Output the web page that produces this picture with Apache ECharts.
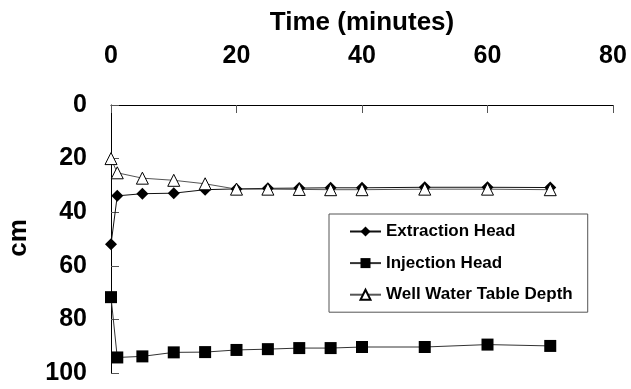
<!DOCTYPE html>
<html>
<head>
<meta charset="utf-8">
<title>Head and water table depth over time</title>
<script src="https://cdn.jsdelivr.net/npm/echarts@6/dist/echarts.min.js"></script>
<style>
  html, body { margin: 0; padding: 0; background: #fff; }
  #chart { width: 631px; height: 389px; }
</style>
</head>
<body>
<div id="chart"></div>
<script>
// Sampling times (minutes)
const timeMinutes = [0, 1, 5, 10, 15, 20, 25, 30, 35, 40, 50, 60, 70];

// Depths in cm at each sampling time
const extractionHead = [52, 33.9, 33.1, 32.9, 31.6, 31.3, 31.1, 31.0, 30.9, 30.9, 30.7, 30.7, 30.8];
const injectionHead  = [71.7, 94.2, 93.8, 92.3, 92.2, 91.4, 91.1, 90.7, 90.7, 90.3, 90.3, 89.4, 89.9];
const wellTableDepth = [20, 25.3, 27.3, 28.1, 29.4, 31.4, 31.4, 31.5, 31.6, 31.6, 31.4, 31.4, 31.6];

// Axis ticks
const timeTicks = [0, 20, 40, 60, 80];
const depthTicks = [0, 20, 40, 60, 80, 100];

const seriesNames = ['Extraction Head', 'Injection Head', 'Well Water Table Depth'];

const FONT = 'Liberation Sans, Arial, sans-serif';

function pairs(values) {
  return timeMinutes.map((t, i) => [t, values[i]]);
}

const chart = echarts.init(document.getElementById('chart'), null, { renderer: 'canvas' });

chart.setOption({
  animation: false,
  backgroundColor: '#ffffff',
  grid: {
    left: 111,
    right: 18,
    top: 105,
    bottom: 16,
    containLabel: false,
    outerBoundsMode: 'none'
  },
  xAxis: {
    type: 'value',
    position: 'top',
    min: timeTicks[0],
    max: timeTicks[timeTicks.length - 1],
    interval: timeTicks[1] - timeTicks[0],
    axisLine: { show: true, lineStyle: { color: '#000', width: 1 } },
    axisTick: { show: true, inside: true, length: 8, lineStyle: { color: '#555', width: 1 } },
    axisLabel: {
      margin: 36,
      color: '#000',
      fontFamily: FONT,
      fontWeight: 'bold',
      fontSize: 25
    },
    splitLine: { show: false }
  },
  yAxis: {
    type: 'value',
    inverse: true,
    min: depthTicks[0],
    max: depthTicks[depthTicks.length - 1],
    interval: depthTicks[1] - depthTicks[0],
    axisLine: { show: true, lineStyle: { color: '#000', width: 1 } },
    axisTick: { show: true, inside: true, length: 8, lineStyle: { color: '#555', width: 1 } },
    axisLabel: {
      margin: 24,
      color: '#000',
      fontFamily: FONT,
      fontWeight: 'bold',
      fontSize: 25
    },
    splitLine: { show: false }
  },
  graphic: [
    {
      type: 'text',
      x: 362,
      y: 23,
      style: {
        text: 'Time (minutes)',
        fill: '#000',
        font: 'bold 26px ' + FONT,
        align: 'center',
        verticalAlign: 'middle'
      }
    },
    {
      type: 'text',
      x: 19,
      y: 238,
      rotation: Math.PI / 2,
      style: {
        text: 'cm',
        fill: '#000',
        font: 'bold 26px ' + FONT,
        align: 'center',
        verticalAlign: 'middle'
      }
    }
  ],
  legend: {
    data: seriesNames,
    orient: 'vertical',
    left: 329,
    top: 214,
    padding: [9, 15, 9, 20],
    itemGap: 14.6,
    itemWidth: 31,
    itemHeight: 12.5,
    borderColor: '#555',
    borderWidth: 1,
    backgroundColor: '#fff',
    textStyle: {
      color: '#000',
      fontFamily: FONT,
      fontWeight: 'bold',
      fontSize: 17
    }
  },
  series: [
    {
      name: seriesNames[0],
      type: 'line',
      data: pairs(extractionHead),
      symbol: 'diamond',
      symbolSize: 12,
      itemStyle: { color: '#000' },
      lineStyle: { color: '#111', width: 1 },
      emphasis: { disabled: true }
    },
    {
      name: seriesNames[1],
      type: 'line',
      data: pairs(injectionHead),
      symbol: 'rect',
      symbolSize: 12,
      itemStyle: { color: '#000' },
      lineStyle: { color: '#333', width: 1 },
      emphasis: { disabled: true }
    },
    {
      name: seriesNames[2],
      type: 'line',
      data: pairs(wellTableDepth),
      symbol: 'triangle',
      symbolSize: 12,
      itemStyle: { color: '#fff', borderColor: '#000', borderWidth: 1 },
      lineStyle: { color: '#555', width: 1 },
      emphasis: { disabled: true }
    }
  ]
});
</script>
</body>
</html>
